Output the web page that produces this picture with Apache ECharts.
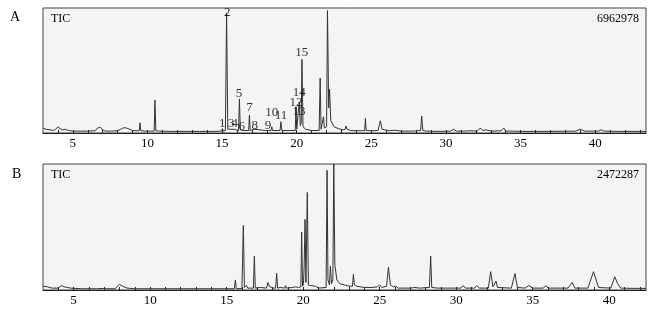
<!DOCTYPE html>
<html><head><meta charset="utf-8">
<script src="https://cdn.jsdelivr.net/npm/echarts@6/dist/echarts.min.js"></script>
<style>html,body{margin:0;padding:0;background:#fff}#c{width:650px;height:311px}</style>
</head><body><div id="c"></div>
<script>
// Panel A chromatogram (retention time, min ; relative intensity, % of 6962978)
const timesA = [3.0,3.2,3.5,3.7,3.85,4.0,4.15,4.3,4.5,4.7,5.0,5.5,6.0,6.5,6.65,6.75,6.85,7.0,7.2,7.6,8.0,8.2,8.4,8.6,8.8,9.0,9.3,9.45,9.5,9.55,9.8,10.2,10.45,10.5,10.56,10.8,11.5,12.5,13.5,14.5,14.95,15.02,15.08,15.22,15.3,15.38,15.5,15.6,15.7,15.8,15.9,16.1,16.16,16.22,16.32,16.4,16.78,16.83,16.88,17.2,17.3,17.9,18.0,18.1,18.28,18.33,18.38,18.88,18.94,19.0,19.5,19.9,19.95,20.0,20.1,20.17,20.24,20.3,20.35,20.42,20.6,21.0,21.5,21.57,21.63,21.74,21.79,21.85,22.0,22.06,22.14,22.2,22.28,22.5,22.8,23.1,23.25,23.3,23.38,23.6,24.0,24.55,24.6,24.65,25.0,25.45,25.6,25.72,25.9,26.2,26.6,27.0,27.8,28.3,28.37,28.45,28.7,29.5,30.3,30.5,30.7,31.2,31.6,32.1,32.3,32.45,32.7,33.0,33.7,33.87,34.0,34.5,35.0,37.0,38.7,39.0,39.3,40.2,40.4,40.6,41.5,43.4];
const intensA = [4,3,2.5,2,3,5,3.5,2.5,3,2,1.5,1.5,1.5,1.8,4,5.6,4.5,2.5,1.5,1.5,1.8,3,4.2,4,3,2,1.8,1.8,8.2,2,1.5,1.5,1.5,26.4,1.8,1.5,1.3,1.3,1.3,1.3,1.5,3.5,1.5,2,96,3,2,3,2,3,2,2,27,2.5,3.5,2,2,14.4,2,3,2,2,3,2,2,5,2,2,9,2,2,2,21,3,4,25,6,8,59,5,3,2,2,44,3,3,13,4,5,98,20,35,10,5,3.5,2.5,3,5.6,3,2,1.8,1.8,11.7,2,1.8,2,9.8,3,2.5,1.8,2.2,1.5,1.5,2,13.6,2,1.5,1.3,1.5,3,1.5,1.5,1.8,1.5,4,2,2.5,1.5,1.8,4,1.5,1.5,1.3,1.3,1.5,3,1.5,1.5,2.5,1.5,1.3,1.3];

// Panel B chromatogram (relative intensity, % of 2472287)
const timesB = [3.0,3.3,3.6,4.0,4.2,4.4,4.8,5.5,6.5,6.85,6.95,7.05,7.7,8.0,8.2,8.5,9.0,12.0,15.0,15.5,15.57,15.63,16.0,16.09,16.16,16.3,16.38,16.75,16.81,16.87,17.2,17.6,17.7,17.78,17.9,17.98,18.2,18.27,18.33,18.5,18.8,18.85,18.9,19.3,19.5,19.7,19.85,19.9,19.96,20.02,20.06,20.12,20.18,20.27,20.34,20.5,20.8,21.0,21.5,21.56,21.62,21.72,21.78,21.85,21.94,22.0,22.07,22.12,22.2,22.4,22.7,23.0,23.22,23.28,23.35,23.5,24.0,24.5,24.85,25.0,25.15,25.45,25.57,25.7,25.9,26.05,26.2,27.0,27.3,27.6,28.25,28.33,28.4,28.8,29.3,29.4,29.5,30.3,30.45,30.6,31.2,31.34,31.5,32.1,32.25,32.4,32.5,32.6,32.7,33.6,33.84,34.0,34.5,34.74,35.0,35.7,35.85,36.0,37.3,37.57,37.75,38.6,38.97,39.3,40.1,40.36,40.55,40.75,41.5,42.4];
const intensB = [3,2.5,1.5,1.5,3.5,2.5,1.5,1,1,1.2,2,1,1,4.5,3,1.5,1,1,1,1,8,1,1.2,51.3,2,3.5,1.5,1.5,27,1.5,2,1.5,6,3,4.5,1.5,1.5,13.2,1.5,2,1.5,3.5,1.5,2,2.5,2,2.5,46,3,5,17,56,6,77.5,4,3.5,3,1.5,2,95,8,4,19,5,8,100,20,20,8,5,4,3,3,12.4,4,3,2,2,2.5,4,2,3,18,4,2.5,3,1.5,1.5,2,1.5,2,27,2,1.5,1.5,3,1.5,1.5,3.5,1.5,1.5,3.5,1.5,1.5,14.5,2.5,2.5,7,2,1.5,13,2,1.5,3.5,1.5,1.5,3.5,1.5,1.5,6,1.5,1.5,14.5,2,1.5,10.5,5,1.5,1.3,1.3];

// Peak numbers in panel A and where they are written (time, intensity)
const peakNames = ['1','2','3','4','5','6','7','8','9','10','11','12','13','14','15'];
const peakLabelTimes = [15.01,15.35,15.62,15.84,16.13,16.31,16.83,17.19,18.08,18.33,18.94,19.95,20.15,20.17,20.33];
const peakLabelHeights = [7.2,96.2,7.2,7.2,31.2,4.8,20,5.6,5.6,16,13.6,24,16.8,32,64.2];

const tickLabels = [5,10,15,20,25,30,35,40];
const minorTicksA = [4,5,6,7,8,9,10,11,12,13,14,15,16,17,18,19,20,21,22,23,24,25,26,27,28,29,30,31,32,33,34,35,36,37,38,39,40,41,42,43];
const minorTicksB = [4,5,6,7,8,9,10,11,12,13,14,15,16,17,18,19,20,21,22,23,24,25,26,27,28,29,30,31,32,33,34,35,36,37,38,39,40,41,42];
const panelNames = ['A','B'];
const maxCounts = ['6962978','2472287'];

const FONT = '"Liberation Serif","Times New Roman",serif';
const chart = echarts.init(document.getElementById('c'), null, {renderer:'canvas'});
const zip = (t, v) => t.map((x, i) => [x, v[i]]);

function xAxis(gi, max, minor) {
  return {
    type:'value', gridIndex:gi, min:3, max:max,
    axisLine:{show:true, lineStyle:{color:'#222', width:1}},
    axisTick:{show:true, inside:true, length:3, customValues:minor, lineStyle:{color:'#222'}},
    axisLabel:{show:true, customValues:tickLabels, color:'#000', fontFamily:FONT, fontSize:13, margin:4},
    splitLine:{show:false}
  };
}
function yAxis(gi) {
  return {type:'value', gridIndex:gi, min:0, max:100, show:false, splitLine:{show:false}};
}

const option = {
  animation:false,
  backgroundColor:'#ffffff',
  title:[
    {text:panelNames[0], left:5, top:5, textStyle:{fontFamily:FONT, fontSize:14, fontWeight:'normal', color:'#000'}},
    {text:panelNames[1], left:7, top:162, textStyle:{fontFamily:FONT, fontSize:14, fontWeight:'normal', color:'#000'}},
    {text:'TIC', left:46, top:8, textStyle:{fontFamily:FONT, fontSize:12, fontWeight:'normal', color:'#000'}},
    {text:'TIC', left:46, top:164, textStyle:{fontFamily:FONT, fontSize:12, fontWeight:'normal', color:'#000'}},
    {text:maxCounts[0], right:6, top:8, textStyle:{fontFamily:FONT, fontSize:12, fontWeight:'normal', color:'#000'}},
    {text:maxCounts[1], right:6, top:164, textStyle:{fontFamily:FONT, fontSize:12, fontWeight:'normal', color:'#000'}}
  ],
  grid:[
    {left:43, right:4, top:8, height:125, show:true, backgroundColor:'#f4f4f4', borderColor:'#444', borderWidth:1},
    {left:43, right:4, top:164, height:126, show:true, backgroundColor:'#f4f4f4', borderColor:'#444', borderWidth:1}
  ],
  xAxis:[xAxis(0, 43.4, minorTicksA), xAxis(1, 42.4, minorTicksB)],
  yAxis:[yAxis(0), yAxis(1)],
  series:[
    {type:'line', xAxisIndex:0, yAxisIndex:0, data:zip(timesA, intensA), showSymbol:false, symbol:'none',
     lineStyle:{color:'#333333', width:1}, clip:true},
    {type:'line', xAxisIndex:1, yAxisIndex:1, data:zip(timesB, intensB), showSymbol:false, symbol:'none',
     lineStyle:{color:'#333333', width:1}, clip:true},
    {type:'scatter', xAxisIndex:0, yAxisIndex:0, symbol:'circle', symbolSize:2,
     itemStyle:{color:'rgba(0,0,0,0)'},
     data:peakNames.map((n, i) => ({value:[peakLabelTimes[i], peakLabelHeights[i]], name:n})),
     label:{show:true, position:'inside', formatter:p => p.name, color:'#000', fontFamily:FONT, fontSize:13},
     labelLayout:{hideOverlap:false},
     z:5}
  ]
};
chart.setOption(option);
</script></body></html>
